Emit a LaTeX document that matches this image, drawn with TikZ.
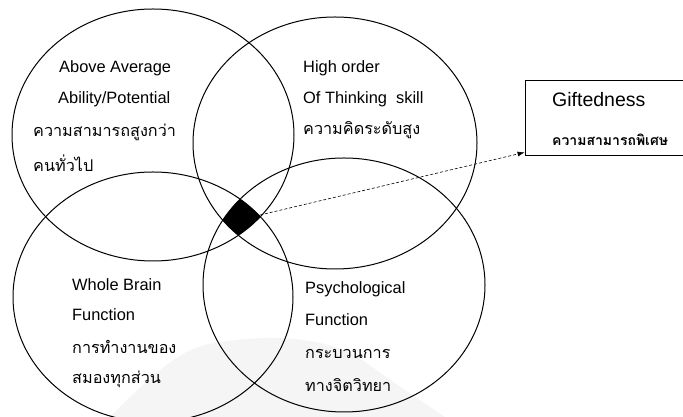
\documentclass[tikz,border=0pt]{standalone}
\usepackage{fontspec}
\setmainfont{Liberation Sans}
\newfontfamily\thaifont[Script=Thai]{Loma}
\usepackage{tikz}
\usetikzlibrary{arrows.meta}
\def\abilityshape{(153,282) ellipse (141pt and 126pt)}
\def\thinkingshape{(335,274) ellipse (142pt and 126pt)}
\def\brainshape{(153,120) ellipse (140pt and 125pt)}
\def\psychshape{(344,132) ellipse (141pt and 127pt)}
\tikzset{
  eng/.style={anchor=west, inner sep=0pt, font=\fontsize{16.4}{18}\selectfont},
  thai/.style={anchor=west, inner sep=0pt, font=\thaifont\fontsize{16.2}{19}\selectfont},
}

\begin{document}
\begin{tikzpicture}[x=1pt,y=1pt]
        \useasboundingbox (0,0) rectangle (683,417);
        % faint scan watermark
        \fill[gray!8] (110,0) .. controls (150,40) and (180,70) .. (215,74)
              .. controls (270,84) and (330,80) .. (365,55)
              .. controls (400,30) and (430,10) .. (445,0) -- cycle;
       \begin{scope} % core where all four overlap
              \clip \abilityshape;
              \clip \thinkingshape;
              \clip \brainshape;
              \fill[black] \psychshape;
        \end{scope}

        \draw[line width=1pt] \abilityshape;
        \draw[line width=1pt] \thinkingshape;
        \draw[line width=1pt] \brainshape;
        \draw[line width=1pt] \psychshape;

        \node[eng] (abil1) at (59,349) {Above Average};
        \node[eng] (abil2) at (58,318) {Ability/Potential};
        \node[thai] (abil3) at (33,285) {ความสามารถสูงกว่า};
        \node[thai] (abil4) at (33,254) {คนทั่วไป};

        \node[eng] (think1) at (303,349) {High order};
        \node[eng] (think2) at (303,318) {Of Thinking\ \ skill};
        \node[thai] (think3) at (303,287) {ความคิดระดับสูง};

        \node[eng] (brain1) at (72,132) {Whole Brain};
        \node[eng] (brain2) at (72,102) {Function};
        \node[thai] (brain3) at (72,70) {การทำงานของ};
        \node[thai] (brain4) at (72,38) {สมองทุกส่วน};

        \node[eng] (psych1) at (305,128) {Psychological};
        \node[eng] (psych2) at (305,97) {Function};
        \node[thai] (psych3) at (305,63) {กระบวนการ};
        \node[thai] (psych4) at (305,32) {ทางจิตวิทยา};

        \node[draw, line width=0.8pt, minimum width=165pt, minimum height=75pt] (gift) at (607.5,299.5) {};
        \node[anchor=west, inner sep=0pt, font=\fontsize{19.5}{22}\selectfont] (gifttitle) at (552,317) {Giftedness};
        \node[anchor=west, inner sep=0pt, font=\thaifont\bfseries\fontsize{14}{16}\selectfont] (giftthai) at (552,277) {ความสามารถพิเศษ};

        \coordinate (core) at (260,202);
        \draw[densely dashed, line width=0.6pt, -{Latex[length=7pt,width=5pt]}] (core) -- ([yshift=3pt]gift.south west);
   \end{tikzpicture}
\end{document}
